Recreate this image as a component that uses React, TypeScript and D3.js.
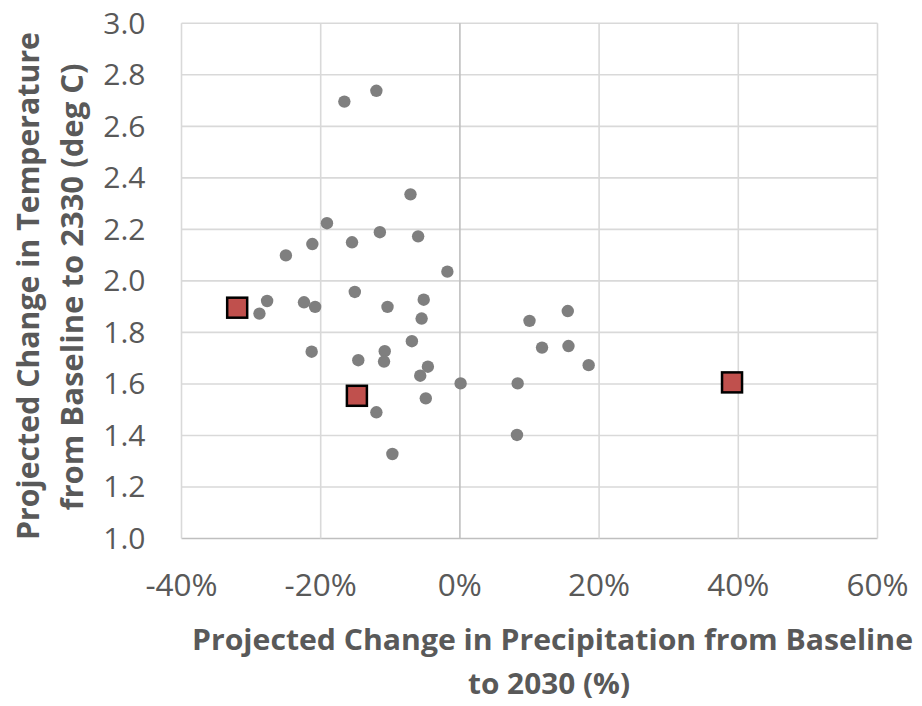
import React from "react";
import * as d3 from "d3";

const W = 922;
const H = 706;

// Gray dots: precipitation change (%), temperature change (deg C)
const dotPrecip = [
  -16.6, -12.0, -7.1, -19.1, -11.5, -6.0, -21.2, -15.5, -25.0, -1.8, -15.1, -27.7,
  -28.8, -22.4, -20.8, -10.4, -5.2, -5.5, -6.9, -21.3, -10.8, -14.6, -10.9, -4.6,
  -5.7, 0.1, -4.9, -12.0, -9.7, 15.5, 10.0, 11.8, 15.6, 18.5, 8.3, 8.2,
];
const dotTemp = [
  2.696, 2.738, 2.336, 2.224, 2.189, 2.173, 2.143, 2.15, 2.099, 2.036, 1.957, 1.922,
  1.873, 1.917, 1.899, 1.899, 1.927, 1.854, 1.766, 1.725, 1.727, 1.692, 1.687, 1.667,
  1.632, 1.602, 1.544, 1.49, 1.328, 1.883, 1.845, 1.741, 1.747, 1.673, 1.602, 1.402,
];

// Highlighted red squares
const squarePrecip = [-32.0, -14.8, 39.1];
const squareTemp = [1.896, 1.554, 1.606];

const xTicks = [-40, -20, 0, 20, 40, 60];
const yTicks = [1.0, 1.2, 1.4, 1.6, 1.8, 2.0, 2.2, 2.4, 2.6, 2.8, 3.0];

const xTitle1 = "Projected Change in Precipitation from Baseline";
const xTitle2 = "to 2030 (%)";
const yTitle1 = "Projected Change in Temperature";
const yTitle2 = "from Baseline to 2330 (deg C)";

const TEXT = "#595959";
const GRID = "#d9d9d9";
const AXIS = "#bfbfbf";

export default function App() {
  const left = 181.5;
  const right = 877.5;
  const top = 23.3;
  const bottom = 538.5;

  const x = d3.scaleLinear().domain([-40, 60]).range([left, right]);
  const y = d3.scaleLinear().domain([1.0, 3.0]).range([bottom, top]);

  const dots = dotPrecip.map((p, i) => ({ p, t: dotTemp[i] }));
  const squares = squarePrecip.map((p, i) => ({ p, t: squareTemp[i] }));
  const sq = 20;

  return (
    <svg
      width={W}
      height={H}
      style={{ position: "absolute", left: 0, top: 0, background: "#fff" }}
      fontFamily="'Open Sans', 'Noto Sans', sans-serif"
    >
      <rect x={0} y={0} width={W} height={H} fill="#fff" />
      {/* gridlines */}
      {yTicks.map((t) => (
        <line key={"gy" + t} x1={left} x2={right} y1={y(t)} y2={y(t)} stroke={t === 1.0 ? AXIS : GRID} strokeWidth={1.6} />
      ))}
      {xTicks.map((t) => (
        <line key={"gx" + t} x1={x(t)} x2={x(t)} y1={top} y2={bottom} stroke={t === 0 ? AXIS : GRID} strokeWidth={1.6} />
      ))}
      {/* y tick labels */}
      {yTicks.map((t) => (
        <text key={"ty" + t} x={145.5} y={y(t) + 10.5} textAnchor="end" fontSize={30} fill={TEXT}>
          {t.toFixed(1)}
        </text>
      ))}
      {/* x tick labels */}
      {xTicks.map((t) => (
        <text key={"tx" + t} x={x(t)} y={596} textAnchor="middle" fontSize={31.5} fill={TEXT}>
          {`${t}%`}
        </text>
      ))}
      {/* dots */}
      {dots.map((d, i) => (
        <circle key={"d" + i} cx={x(d.p)} cy={y(d.t)} r={6.2} fill="#7f7f7f" />
      ))}
      {/* squares */}
      {squares.map((d, i) => (
        <rect
          key={"s" + i}
          x={x(d.p) - sq / 2}
          y={y(d.t) - sq / 2}
          width={sq}
          height={sq}
          fill="#c0504d"
          stroke="#000"
          strokeWidth={2.5}
        />
      ))}
      {/* x title */}
      <text x={552.5} y={650} textAnchor="middle" fontSize={29} fontWeight="bold" fill={TEXT} textLength={721} lengthAdjust="spacingAndGlyphs">
        {xTitle1}
      </text>
      <text x={549} y={694} textAnchor="middle" fontSize={29} fontWeight="bold" fill={TEXT} textLength={162} lengthAdjust="spacingAndGlyphs">
        {xTitle2}
      </text>
      {/* y title */}
      <text transform="translate(39,286) rotate(-90)" textAnchor="middle" fontSize={31} fontWeight="bold" fill={TEXT} textLength={508} lengthAdjust="spacingAndGlyphs">
        {yTitle1}
      </text>
      <text transform="translate(83,287) rotate(-90)" textAnchor="middle" fontSize={31} fontWeight="bold" fill={TEXT} textLength={447} lengthAdjust="spacingAndGlyphs">
        {yTitle2}
      </text>
    </svg>
  );
}
